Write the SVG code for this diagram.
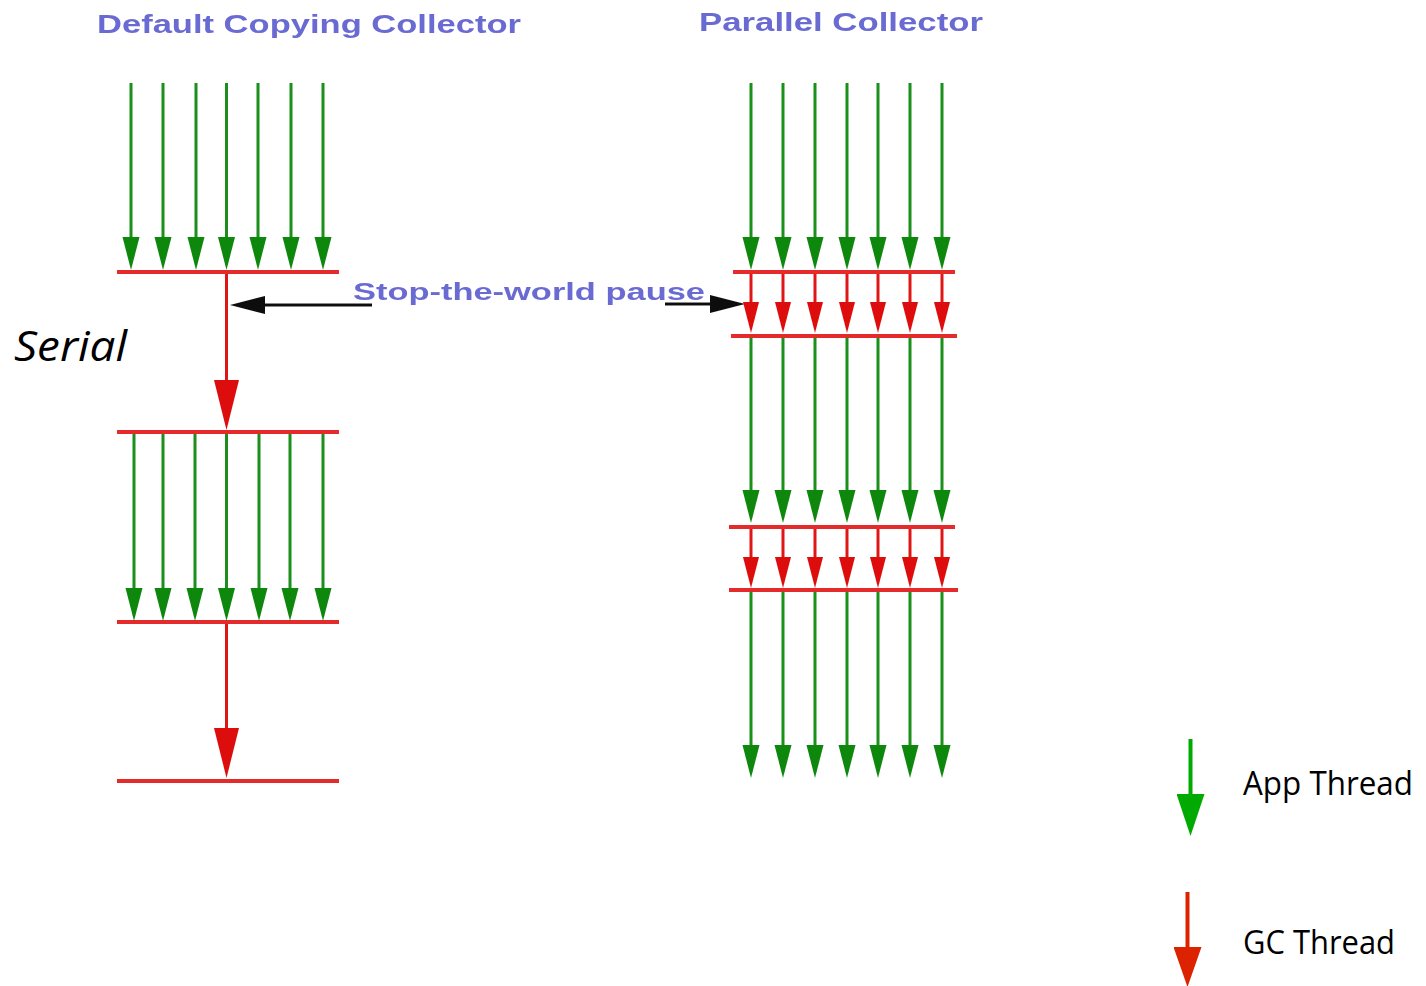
<svg xmlns="http://www.w3.org/2000/svg" width="1426" height="986" viewBox="0 0 1426 986">
  <style>
    .title { font-family: "Liberation Sans", Arial, sans-serif; font-weight: bold; fill: #6b6bd3; }
    .app { stroke: #1a8e1a; stroke-width: 3; fill: none; }
    .gc { stroke: #e01616; stroke-width: 3; fill: none; }
    .bar { stroke: #e42a2a; stroke-width: 4; stroke-linecap: butt; }
    .ptr { stroke: #111; stroke-width: 3; fill: none; }
    .legend { font-family: "Open Sans", "Noto Sans", sans-serif; font-size: 32px; fill: #000; }
  </style>
  <defs>
    <filter id="soft" x="-5%" y="-5%" width="110%" height="110%">
      <feGaussianBlur stdDeviation="0.7"/>
    </filter>
    <marker id="hApp" markerUnits="userSpaceOnUse" viewBox="0 -9 33 18" markerWidth="33" markerHeight="18" refX="0" refY="0" orient="auto">
      <path d="M0,-8.5 L33,0 L0,8.5 z" fill="#0e880e"/>
    </marker>
    <marker id="hGc" markerUnits="userSpaceOnUse" viewBox="0 -9 31 18" markerWidth="31" markerHeight="18" refX="0" refY="0" orient="auto">
      <path d="M0,-8 L31,0 L0,8 z" fill="#dd0d0d"/>
    </marker>
    <marker id="hGcBig" markerUnits="userSpaceOnUse" viewBox="0 -13 50 26" markerWidth="50" markerHeight="26" refX="0" refY="0" orient="auto">
      <path d="M0,-12.5 L50,0 L0,12.5 z" fill="#dd0d0d"/>
    </marker>
    <marker id="hPtr" markerUnits="userSpaceOnUse" viewBox="0 -9 35 18" markerWidth="35" markerHeight="18" refX="0" refY="0" orient="auto">
      <path d="M0,-9 L35,0 L0,9 z" fill="#111"/>
    </marker>
    <marker id="hLegApp" markerUnits="userSpaceOnUse" viewBox="0 -14 42 28" markerWidth="42" markerHeight="28" refX="0" refY="0" orient="auto">
      <path d="M0,-14 L42,0 L0,14 z" fill="#00aa00"/>
    </marker>
    <marker id="hLegGc" markerUnits="userSpaceOnUse" viewBox="0 -14 40 28" markerWidth="40" markerHeight="28" refX="0" refY="0" orient="auto">
      <path d="M0,-14 L40,0 L0,14 z" fill="#dd2200"/>
    </marker>
  </defs>

  <rect width="1426" height="986" fill="#fff"/>

  <g id="diagram" filter="url(#soft)">
    <!-- headings -->
    <g id="title-serial">
      <text class="title" x="97" y="33" font-size="26" textLength="424" lengthAdjust="spacingAndGlyphs">Default Copying Collector</text>
    </g>
    <g id="title-parallel">
      <text class="title" x="699" y="31" font-size="26" textLength="284" lengthAdjust="spacingAndGlyphs">Parallel Collector</text>
    </g>

    <!-- safepoint bars, serial collector -->
    <g id="serial-bar-1"><line class="bar" x1="117" y1="272" x2="339" y2="272"/></g>
    <g id="serial-bar-2"><line class="bar" x1="117" y1="432" x2="339" y2="432"/></g>
    <g id="serial-bar-3"><line class="bar" x1="117" y1="622" x2="339" y2="622"/></g>
    <g id="serial-bar-4"><line class="bar" x1="117" y1="781" x2="339" y2="781"/></g>

    <!-- safepoint bars, parallel collector -->
    <g id="parallel-bar-1"><line class="bar" x1="733" y1="272" x2="955" y2="272"/></g>
    <g id="parallel-bar-2"><line class="bar" x1="731" y1="336" x2="957" y2="336"/></g>
    <g id="parallel-bar-3"><line class="bar" x1="729" y1="527" x2="955" y2="527"/></g>
    <g id="parallel-bar-4"><line class="bar" x1="729" y1="590" x2="958" y2="590"/></g>

    <g id="pause-label">
      <text class="title" x="353" y="300" font-size="24" textLength="352" lengthAdjust="spacingAndGlyphs">Stop-the-world pause</text>
    </g>

    <g id="connectors">
      <!-- serial: application threads before first pause -->
      <g class="app" marker-end="url(#hApp)">
        <line x1="131" y1="83" x2="131" y2="237"/>
        <line x1="163" y1="83" x2="163" y2="237"/>
        <line x1="196" y1="83" x2="196" y2="237"/>
        <line x1="226.5" y1="83" x2="226.5" y2="237"/>
        <line x1="258" y1="83" x2="258" y2="237"/>
        <line x1="291" y1="83" x2="291" y2="237"/>
        <line x1="323" y1="83" x2="323" y2="237"/>
      </g>
      <!-- serial: single GC thread -->
      <line class="gc" x1="226.5" y1="274" x2="226.5" y2="380" marker-end="url(#hGcBig)"/>
      <!-- serial: application threads after first pause -->
      <g class="app" marker-end="url(#hApp)">
        <line x1="134" y1="434" x2="134" y2="588"/>
        <line x1="163" y1="434" x2="163" y2="588"/>
        <line x1="195" y1="434" x2="195" y2="588"/>
        <line x1="226.5" y1="434" x2="226.5" y2="588"/>
        <line x1="259" y1="434" x2="259" y2="588"/>
        <line x1="290" y1="434" x2="290" y2="588"/>
        <line x1="323" y1="434" x2="323" y2="588"/>
      </g>
      <line class="gc" x1="226.5" y1="624" x2="226.5" y2="728" marker-end="url(#hGcBig)"/>

      <!-- pause pointers -->
      <line class="ptr" x1="372" y1="305" x2="265" y2="305" marker-end="url(#hPtr)"/>
      <line class="ptr" x1="665" y1="304" x2="710" y2="304" marker-end="url(#hPtr)"/>

      <!-- parallel: application threads -->
      <g class="app" marker-end="url(#hApp)">
        <line x1="751" y1="83" x2="751" y2="237"/>
        <line x1="783" y1="83" x2="783" y2="237"/>
        <line x1="815" y1="83" x2="815" y2="237"/>
        <line x1="847" y1="83" x2="847" y2="237"/>
        <line x1="878" y1="83" x2="878" y2="237"/>
        <line x1="910" y1="83" x2="910" y2="237"/>
        <line x1="942" y1="83" x2="942" y2="237"/>
      </g>
      <!-- parallel: GC threads, first pause -->
      <g class="gc" marker-end="url(#hGc)">
        <line x1="751" y1="274" x2="751" y2="302"/>
        <line x1="783" y1="274" x2="783" y2="302"/>
        <line x1="815" y1="274" x2="815" y2="302"/>
        <line x1="847" y1="274" x2="847" y2="302"/>
        <line x1="878" y1="274" x2="878" y2="302"/>
        <line x1="910" y1="274" x2="910" y2="302"/>
        <line x1="942" y1="274" x2="942" y2="302"/>
      </g>
      <g class="app" marker-end="url(#hApp)">
        <line x1="751" y1="338" x2="751" y2="490"/>
        <line x1="783" y1="338" x2="783" y2="490"/>
        <line x1="815" y1="338" x2="815" y2="490"/>
        <line x1="847" y1="338" x2="847" y2="490"/>
        <line x1="878" y1="338" x2="878" y2="490"/>
        <line x1="910" y1="338" x2="910" y2="490"/>
        <line x1="942" y1="338" x2="942" y2="490"/>
      </g>
      <!-- parallel: GC threads, second pause -->
      <g class="gc" marker-end="url(#hGc)">
        <line x1="751" y1="529" x2="751" y2="557"/>
        <line x1="783" y1="529" x2="783" y2="557"/>
        <line x1="815" y1="529" x2="815" y2="557"/>
        <line x1="847" y1="529" x2="847" y2="557"/>
        <line x1="878" y1="529" x2="878" y2="557"/>
        <line x1="910" y1="529" x2="910" y2="557"/>
        <line x1="942" y1="529" x2="942" y2="557"/>
      </g>
      <g class="app" marker-end="url(#hApp)">
        <line x1="751" y1="592" x2="751" y2="745"/>
        <line x1="783" y1="592" x2="783" y2="745"/>
        <line x1="815" y1="592" x2="815" y2="745"/>
        <line x1="847" y1="592" x2="847" y2="745"/>
        <line x1="878" y1="592" x2="878" y2="745"/>
        <line x1="910" y1="592" x2="910" y2="745"/>
        <line x1="942" y1="592" x2="942" y2="745"/>
      </g>
    </g>
  </g>

  <g id="serial-label">
    <text x="14" y="361" font-family="'Open Sans', 'Noto Sans', sans-serif" font-style="italic" font-size="42" fill="#000" textLength="113" lengthAdjust="spacingAndGlyphs">Serial</text>
  </g>

  <!-- legend -->
  <g id="legend-app">
    <line x1="1190.5" y1="739" x2="1190.5" y2="794" stroke="#00aa00" stroke-width="4" marker-end="url(#hLegApp)"/>
    <text class="legend" x="1243" y="795" textLength="170" lengthAdjust="spacingAndGlyphs">App Thread</text>
  </g>
  <g id="legend-gc">
    <line x1="1187.5" y1="892" x2="1187.5" y2="947" stroke="#dd2200" stroke-width="4" marker-end="url(#hLegGc)"/>
    <text class="legend" x="1243" y="954" textLength="152" lengthAdjust="spacingAndGlyphs">GC Thread</text>
  </g>
</svg>
